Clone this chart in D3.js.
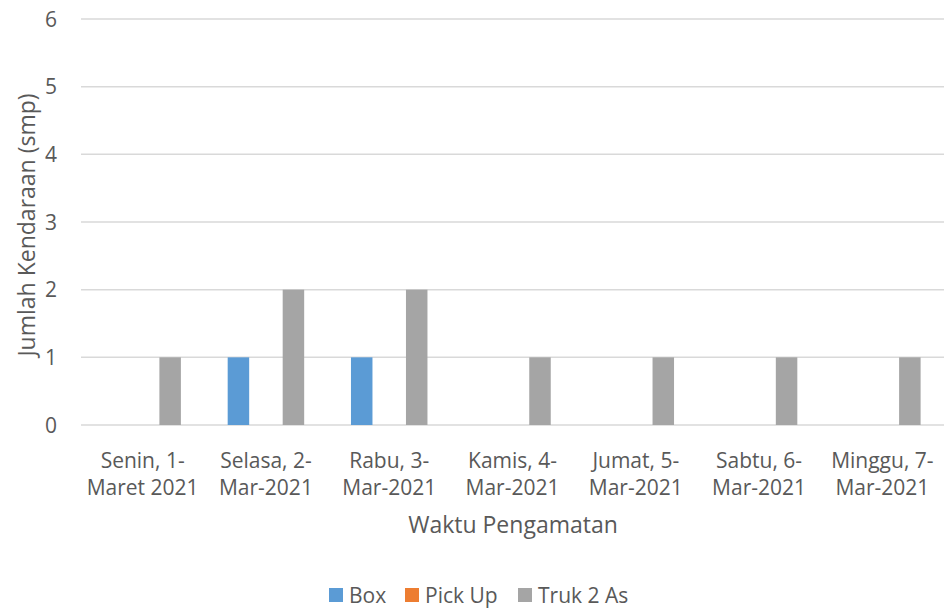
<!DOCTYPE html>
<html>
<head>
<meta charset="utf-8">
<script src="https://cdn.jsdelivr.net/npm/d3@7"></script>
<style>
  body { margin: 0; background: #fff; }
  text { font-family: "Open Sans", Lato, sans-serif; fill: #595959; }
</style>
</head>
<body>
<div id="chart"></div>
<script>
// data
var categories = [
  ["Senin, 1-", "Maret 2021"],
  ["Selasa, 2-", "Mar-2021"],
  ["Rabu, 3-", "Mar-2021"],
  ["Kamis, 4-", "Mar-2021"],
  ["Jumat, 5-", "Mar-2021"],
  ["Sabtu, 6-", "Mar-2021"],
  ["Minggu, 7-", "Mar-2021"]
];
var seriesNames = ["Box", "Pick Up", "Truk 2 As"];
var boxValues = [0, 1, 1, 0, 0, 0, 0];
var pickUpValues = [0, 0, 0, 0, 0, 0, 0];
var trukValues = [1, 2, 2, 1, 1, 1, 1];
var yTicks = [0, 1, 2, 3, 4, 5, 6];
var colors = ["#5b9bd5", "#ed7d31", "#a5a5a5"];

var allSeries = [boxValues, pickUpValues, trukValues];

var W = 944, H = 610;
var margin = {top: 19, right: 0, bottom: 185, left: 81};
var width = W - margin.left - margin.right;
var height = H - margin.top - margin.bottom;

var svg = d3.select("#chart").append("svg")
    .attr("width", W)
    .attr("height", H);

var g = svg.append("g")
    .attr("transform", "translate(" + margin.left + "," + margin.top + ")");

var x0 = d3.scaleBand()
    .domain(d3.range(categories.length))
    .range([0, width]);

var x1 = d3.scalePoint()
    .domain(seriesNames)
    .range([-27.5, 27.5]);
var barWidth = 21.5;

var y = d3.scaleLinear()
    .domain([0, 6])
    .range([height, 0]);

// gridlines
g.append("g")
  .selectAll("line")
  .data(yTicks)
  .enter().append("line")
    .attr("x1", 0)
    .attr("x2", width)
    .attr("y1", function(d) { return y(d); })
    .attr("y2", function(d) { return y(d); })
    .attr("stroke", "#d9d9d9")
    .attr("stroke-width", 1.5);

// y tick labels
g.append("g")
  .selectAll("text")
  .data(yTicks)
  .enter().append("text")
    .attr("x", -24)
    .attr("y", function(d) { return y(d); })
    .attr("dy", "0.36em")
    .attr("text-anchor", "end")
    .style("font-size", "21px")
    .text(function(d) { return d; });

// bars
var groups = g.append("g")
  .selectAll("g")
  .data(categories)
  .enter().append("g")
    .attr("transform", function(d, i) {
      return "translate(" + (x0(i) + x0.bandwidth() / 2) + ",0)";
    });

groups.selectAll("rect")
  .data(function(d, i) {
    return seriesNames.map(function(s, k) {
      return {series: s, value: allSeries[k][i], color: colors[k]};
    });
  })
  .enter().append("rect")
    .attr("x", function(d) { return x1(d.series) - barWidth / 2; })
    .attr("y", function(d) { return y(d.value); })
    .attr("width", barWidth)
    .attr("height", function(d) { return y(0) - y(d.value); })
    .attr("fill", function(d) { return d.color; });

// x tick labels (two lines)
groups.append("text")
    .attr("y", 468 - margin.top)
    .attr("text-anchor", "middle")
    .style("font-size", "21px")
    .selectAll("tspan")
    .data(function(d) { return d; })
    .enter().append("tspan")
      .attr("x", 0)
      .attr("dy", function(d, i) { return i === 0 ? 0 : 27; })
      .text(function(d) { return d; });

// axis titles
svg.append("text")
    .attr("x", 513)
    .attr("y", 533)
    .attr("text-anchor", "middle")
    .style("font-size", "23px")
    .text("Waktu Pengamatan");

svg.append("text")
    .attr("transform", "translate(35,225) rotate(-90)")
    .attr("text-anchor", "middle")
    .style("font-size", "23px")
    .text("Jumlah Kendaraan (smp)");

// legend
var legendX = [329, 405, 518];
var legend = svg.append("g")
  .selectAll("g")
  .data(seriesNames)
  .enter().append("g")
    .attr("transform", function(d, i) { return "translate(" + legendX[i] + ",588)"; });

legend.append("rect")
    .attr("width", 14)
    .attr("height", 14)
    .attr("fill", function(d, i) { return colors[i]; });

legend.append("text")
    .attr("x", 20)
    .attr("y", 7)
    .attr("dy", "0.36em")
    .style("font-size", "21px")
    .text(function(d) { return d; });
</script>
</body>
</html>
